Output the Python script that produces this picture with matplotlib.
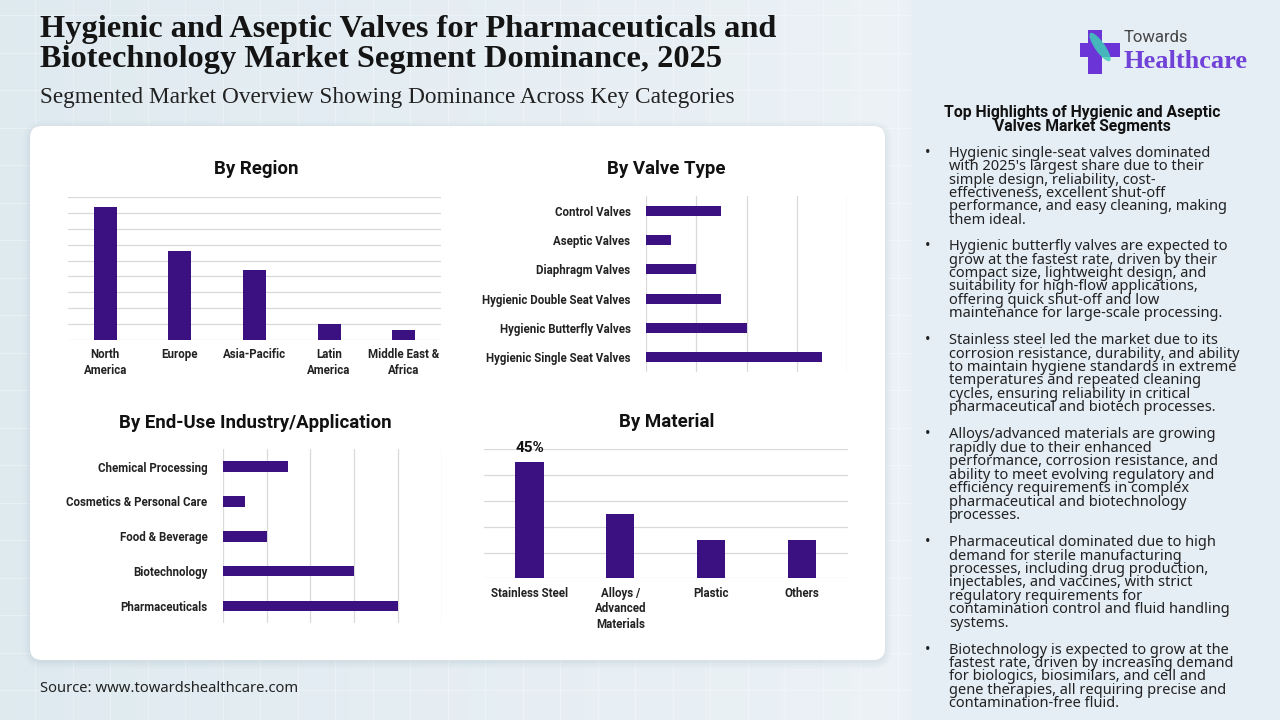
import matplotlib
matplotlib.use("Agg")
import matplotlib.pyplot as plt
import numpy as np
from matplotlib.patches import FancyBboxPatch, Rectangle, Ellipse

# ---------------- data ----------------
region_cats = ["North\nAmerica", "Europe", "Asia-Pacific", "Latin\nAmerica", "Middle East &\nAfrica"]
region_vals = [42, 28, 22, 5, 3]

valve_cats = ["Control Valves", "Aseptic Valves", "Diaphragm Valves",
              "Hygienic Double Seat Valves", "Hygienic Butterfly Valves",
              "Hygienic Single Seat Valves"]
valve_vals = [15, 5, 10, 15, 20, 35]

enduse_cats = ["Chemical Processing", "Cosmetics & Personal Care", "Food & Beverage",
               "Biotechnology", "Pharmaceuticals"]
enduse_vals = [15, 5, 10, 30, 40]

material_cats = ["Stainless Steel", "Alloys /\nAdvanced\nMaterials", "Plastic", "Others"]
material_vals = [45, 25, 15, 15]
material_label_idx = 0

title_lines = ["Hygienic and Aseptic Valves for Pharmaceuticals and",
               "Biotechnology Market Segment Dominance, 2025"]
subtitle = "Segmented Market Overview Showing Dominance Across Key Categories"
source = "Source: www.towardshealthcare.com"
panel_title = ["Top Highlights of Hygienic and Aseptic", "Valves Market Segments"]
bullets = [
    ["Hygienic single-seat valves dominated", "with 2025's largest share due to their",
     "simple design, reliability, cost-", "effectiveness, excellent shut-off",
     "performance, and easy cleaning, making", "them ideal."],
    ["Hygienic butterfly valves are expected to", "grow at the fastest rate, driven by their",
     "compact size, lightweight design, and", "suitability for high-flow applications,",
     "offering quick shut-off and low", "maintenance for large-scale processing."],
    ["Stainless steel led the market due to its", "corrosion resistance, durability, and ability",
     "to maintain hygiene standards in extreme", "temperatures and repeated cleaning",
     "cycles, ensuring reliability in critical", "pharmaceutical and biotech processes."],
    ["Alloys/advanced materials are growing", "rapidly due to their enhanced",
     "performance, corrosion resistance, and", "ability to meet evolving regulatory and",
     "efficiency requirements in complex", "pharmaceutical and biotechnology", "processes."],
    ["Pharmaceutical dominated due to high", "demand for sterile manufacturing",
     "processes, including drug production,", "injectables, and vaccines, with strict",
     "regulatory requirements for", "contamination control and fluid handling", "systems."],
    ["Biotechnology is expected to grow at the", "fastest rate, driven by increasing demand",
     "for biologics, biosimilars, and cell and", "gene therapies, all requiring precise and",
     "contamination-free fluid."],
]
bullet_y0 = [153.3, 246.7, 340.7, 435.0, 542.7, 650.0]

# ---------------- style ----------------
BAR = "#3b1080"
GRID = "#d9d9d9"
SANS = ["Roboto", "DejaVu Sans"]
BODY = ["Noto Sans", "DejaVu Sans"]
SERIF = ["Liberation Serif", "DejaVu Serif"]

W, H = 1280, 720
fig = plt.figure(figsize=(12.8, 7.2), dpi=100)

# background axes in pixel units
bg = fig.add_axes([0, 0, 1, 1], zorder=-10)
bg.set_xlim(0, W); bg.set_ylim(H, 0); bg.axis("off")
grad = np.linspace(0, 1, 256)[None, :]
c0 = np.array([0.875, 0.918, 0.941]); c1 = np.array([0.945, 0.960, 0.975])
img = c0[None, None, :] * (1 - grad[..., None]) + c1[None, None, :] * grad[..., None]
bg.imshow(img, extent=[0, W, H, 0], aspect="auto", zorder=0)
for gx in np.arange(35, 912, 37.5):
    bg.plot([gx, gx], [0, H], color="white", lw=0.8, alpha=0.3, zorder=1)
for gy in np.arange(15, H, 37.5):
    bg.plot([0, 912], [gy, gy], color="white", lw=0.8, alpha=0.3, zorder=1)

# right panel
bg.add_patch(Rectangle((912, 0), W - 912, H, facecolor="#e5edf5", edgecolor="none", zorder=2))
for i, a in enumerate([0.05, 0.035, 0.02]):
    bg.add_patch(Rectangle((912 - 3 * (i + 1), 0), 3, H, facecolor="#c8d3de", alpha=a, edgecolor="none", zorder=2))

# card with shadow
for i, a in enumerate([0.05, 0.04, 0.03, 0.02]):
    d = 2 * (i + 1)
    bg.add_patch(FancyBboxPatch((30 - d + 1, 126 - d + 3), 855 + 2 * d - 2, 534 + 2 * d - 2,
                                boxstyle="round,pad=0,rounding_size=%d" % (12 + d),
                                facecolor="#7890a8", alpha=a, edgecolor="none", zorder=3))
bg.add_patch(FancyBboxPatch((30, 126), 855, 534, boxstyle="round,pad=0,rounding_size=12",
                            facecolor="white", edgecolor="none", zorder=4))

# logo
bg.add_patch(Rectangle((1088, 30), 14, 44, facecolor="#6b34d6", edgecolor="none", zorder=5))
bg.add_patch(Rectangle((1080, 43), 40, 14, facecolor="#6b34d6", edgecolor="none", zorder=5))
bg.add_patch(Ellipse((1100, 47), 10, 34, angle=-35, facecolor="#3fcfb8", edgecolor="none", alpha=0.85, zorder=6))


def X(px):
    return px / W


def Y(py):
    return 1 - py / H


fig.text(X(1124), Y(37), "Towards", fontsize=12, family=SANS, color="#444444", va="center", ha="left")
fig.text(X(1123), Y(62), "Healthcare", fontsize=19, family=SERIF, weight="bold", color="#7042d8",
         va="center", ha="left")

# titles
fig.text(X(40), Y(29), title_lines[0], fontsize=23.3, family=SERIF, weight="bold", color="#141414", va="center")
fig.text(X(40), Y(60), title_lines[1], fontsize=23.3, family=SERIF, weight="bold", color="#141414", va="center")
fig.text(X(40), Y(98), subtitle, fontsize=16.75, family=SERIF, color="#222222", va="center")
fig.text(X(40), Y(689), source, fontsize=10.65, family=BODY, color="#222222", va="center")

# right panel text
fig.text(X(1082), Y(113), panel_title[0], fontsize=11.3, family=SANS, weight="bold", color="#111111",
         ha="center", va="center")
fig.text(X(1082), Y(127), panel_title[1], fontsize=11.3, family=SANS, weight="bold", color="#111111",
         ha="center", va="center")
STEP = 13.4
for lines, y0 in zip(bullets, bullet_y0):
    fig.text(X(928), Y(y0), "\u2022", fontsize=10.5, family=BODY, color="#222222", ha="center", va="center")
    for k, ln in enumerate(lines):
        fig.text(X(949), Y(y0 + k * STEP), ln, fontsize=10.5, family=BODY, color="#222222",
                 ha="left", va="center")

TICK = dict(fontsize=8.3, family=SANS, weight="bold", color="#222222")
TITLE = dict(fontsize=13.4, family=SANS, weight="bold", color="#111111")


def axes_px(l, t, r, b):
    return fig.add_axes([X(l), Y(b), (r - l) / W, (b - t) / H], zorder=5)


def clean(ax):
    ax.set_facecolor("none")
    for s in ax.spines.values():
        s.set_visible(False)
    ax.tick_params(length=0)


# By Region
ax1 = axes_px(68, 197, 441, 340)
clean(ax1)
x1 = np.arange(len(region_cats))
ax1.bar(x1, region_vals, width=0.31, color=BAR, zorder=3)
ax1.set_xlim(-0.5, len(region_cats) - 0.5)
ax1.set_ylim(0, 45)
ax1.set_yticks(np.arange(0, 46, 5))
ax1.set_yticklabels([])
ax1.yaxis.grid(True, color=GRID, lw=0.9, zorder=0)
ax1.set_xticks(x1)
ax1.set_xticklabels(region_cats, linespacing=1.25, **TICK)
ax1.tick_params(axis="x", pad=6)
fig.text(X(256), Y(169), "By Region", ha="center", va="center", **TITLE)

# By Valve Type
ax2 = axes_px(645.7, 196, 847.3, 372)
clean(ax2)
y2 = np.arange(len(valve_cats))
ax2.barh(y2, valve_vals, height=0.34, color=BAR, zorder=3)
ax2.set_ylim(len(valve_cats) - 0.5, -0.5)
ax2.set_xlim(0, 40)
ax2.set_xticks(np.arange(0, 41, 10))
ax2.set_xticklabels([])
ax2.xaxis.grid(True, color=GRID, lw=0.9, zorder=0)
ax2.set_yticks(y2)
ax2.set_yticklabels(valve_cats, **TICK)
ax2.tick_params(axis="y", pad=11)
fig.text(X(666), Y(169), "By Valve Type", ha="center", va="center", **TITLE)

# By End-Use
ax3 = axes_px(222.7, 449.3, 441.7, 623.3)
clean(ax3)
y3 = np.arange(len(enduse_cats))
ax3.barh(y3, enduse_vals, height=0.3, color=BAR, zorder=3)
ax3.set_ylim(len(enduse_cats) - 0.5, -0.5)
ax3.set_xlim(0, 50)
ax3.set_xticks(np.arange(0, 51, 10))
ax3.set_xticklabels([])
ax3.xaxis.grid(True, color=GRID, lw=0.9, zorder=0)
ax3.set_yticks(y3)
ax3.set_yticklabels(enduse_cats, **TICK)
ax3.tick_params(axis="y", pad=11)
fig.text(X(255), Y(422.5), "By End-Use Industry/Application", ha="center", va="center", **TITLE)

# By Material
ax4 = axes_px(484, 449.3, 847.7, 578.3)
clean(ax4)
x4 = np.arange(len(material_cats))
ax4.bar(x4, material_vals, width=0.31, color=BAR, zorder=3)
ax4.set_xlim(-0.5, len(material_cats) - 0.5)
ax4.set_ylim(0, 50)
ax4.set_yticks(np.arange(0, 51, 10))
ax4.set_yticklabels([])
ax4.yaxis.grid(True, color=GRID, lw=0.9, zorder=0)
ax4.set_xticks(x4)
ax4.set_xticklabels(material_cats, linespacing=1.25, **TICK)
ax4.tick_params(axis="x", pad=6)
ax4.annotate(f"{material_vals[material_label_idx]}%", (x4[material_label_idx], material_vals[material_label_idx]),
             xytext=(0, 5), textcoords="offset points", ha="center", va="bottom",
             fontsize=11, family=SANS, weight="bold", color="#111111", annotation_clip=False)
fig.text(X(666.5), Y(422), "By Material", ha="center", va="center", **TITLE)

fig.savefig("out.png", dpi=100)
